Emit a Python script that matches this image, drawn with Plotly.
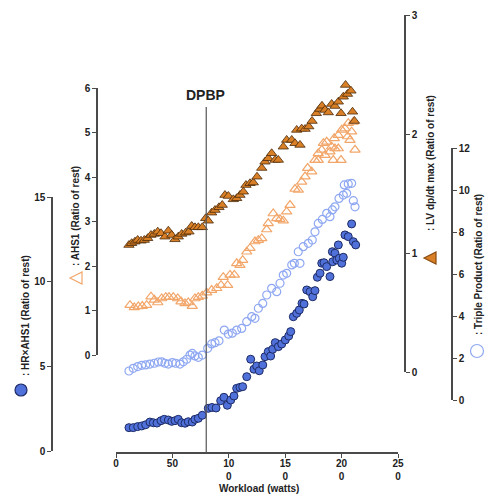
import plotly.graph_objects as go

# ---------------- data ----------------
hr_x = [11.5,15.3,19.2,22.8,26.3,30.1,33.1,36.3,39.9,42.8,46.4,49.4,52.3,55.2,58.2,61.2,64.1,67.6,70.0,73.0,76.5,81.8,85.1,88.7,92.8,95.7,98.7,101.7,104.6,107.0,109.9,112.3,115.9,119.4,122.3,124.7,127.0,130.1,132.1,135.0,137.1,138.9,141.2,143.9,146.9,150.1,153.1,154.9,157.2,160.2,162.5,164.9,166.7,169.1,172.0,174.4,176.4,178.5,180.9,182.4,184.4,186.8,189.7,191.8,192.1,194.1,195.7,197.1,198.0,200.1,201.5,203.0,205.9,208.9,210.4,212.5]
hr_y = [1.38,1.38,1.44,1.48,1.55,1.71,1.67,1.65,1.79,1.87,1.83,1.75,1.79,1.87,1.67,1.64,1.73,1.71,1.87,1.93,2.11,2.52,2.57,2.54,2.97,3.17,2.70,3.01,3.25,3.70,3.76,3.80,4.39,5.42,4.83,5.02,4.74,5.08,5.57,5.87,5.61,6.01,6.40,6.16,6.32,6.56,6.79,7.05,7.93,8.13,8.33,8.72,8.68,9.51,9.41,9.11,9.47,10.26,10.50,11.09,11.12,10.89,10.30,11.77,11.18,11.68,11.28,12.17,11.38,11.09,11.44,12.76,12.66,13.41,12.36,12.17]

tp_x = [11.5,15.3,19.2,22.8,26.3,30.1,34.0,37.5,40.5,43.4,46.4,49.9,52.9,56.7,59.7,62.7,65.6,67.6,70.0,73.0,76.5,81.3,84.8,87.8,91.3,96.0,99.6,103.1,107.0,111.4,115.9,120.3,123.2,126.2,130.1,133.6,138.0,142.5,145.4,148.3,151.3,155.8,158.1,161.6,163.1,166.0,170.5,174.0,176.4,179.3,182.9,186.8,189.7,191.8,194.1,197.7,201.5,202.4,204.5,205.9,208.9,210.4,211.9]
tp_y = [1.38,1.51,1.59,1.65,1.67,1.71,1.75,1.81,1.82,1.75,1.71,1.78,1.75,1.71,1.82,1.94,2.14,2.22,2.10,2.03,2.14,2.46,2.67,2.73,2.82,3.33,3.14,3.18,3.33,3.41,3.73,3.97,3.89,4.37,4.60,5.00,5.32,5.16,5.56,5.95,6.03,6.43,6.51,7.06,6.51,7.30,7.46,7.62,8.01,8.41,8.60,8.89,8.73,9.05,9.20,9.60,9.76,10.24,9.84,10.29,10.32,9.49,9.20]

ahs_x = [12.4,16.2,19.8,23.3,27.2,31.0,34.0,37.0,40.5,44.1,47.0,50.8,54.7,57.6,61.2,64.1,67.6,70.0,73.0,76.5,80.4,84.8,89.3,93.1,95.1,99.0,101.1,104.9,107.0,109.9,112.3,115.9,118.8,123.2,126.2,129.2,133.6,135.0,139.4,142.5,145.4,148.3,151.3,154.3,158.7,161.6,164.6,167.6,169.9,173.5,176.4,179.3,179.3,182.4,183.9,185.3,186.8,189.7,191.2,192.6,193.5,194.1,197.1,197.1,199.5,200.1,203.0,205.4,205.9,207.4,208.9,210.4,211.9]
ahs_y = [1.12,1.07,1.09,1.10,1.12,1.31,1.24,1.18,1.27,1.30,1.30,1.30,1.27,1.20,1.16,1.18,1.10,1.27,1.30,1.33,1.40,1.46,1.50,1.57,1.75,1.57,1.80,1.80,2.06,2.02,2.13,2.32,2.40,2.55,2.58,2.62,2.82,2.96,3.18,3.07,3.05,3.02,3.22,3.37,3.73,3.71,3.89,4.01,4.20,4.12,4.38,4.53,4.38,4.61,4.76,4.49,4.79,4.57,4.68,4.38,4.87,4.64,4.94,4.64,4.38,5.06,5.09,4.91,5.21,4.83,5.02,5.24,4.61]

lv_x = [11.5,13.9,16.8,19.2,22.2,25.1,28.1,31.0,34.0,37.0,39.9,43.4,46.4,49.4,52.3,55.2,58.2,61.8,64.7,67.1,70.0,73.0,76.5,79.5,81.8,84.8,87.8,91.3,94.2,96.6,99.6,104.0,107.0,109.9,112.9,115.2,118.8,121.7,125.0,129.2,132.1,135.0,138.0,141.0,143.9,148.3,151.3,155.8,158.7,160.2,163.1,164.6,167.6,170.9,173.8,177.6,180.6,182.6,185.3,188.2,191.2,194.1,197.1,199.5,201.5,203.5,205.2,208.3,209.7,211.4]
lv_y = [1.067,1.082,1.095,1.109,1.103,1.109,1.124,1.151,1.160,1.179,1.166,1.137,1.187,1.151,1.115,1.137,1.160,1.171,1.179,1.227,1.216,1.216,1.216,1.292,1.271,1.339,1.361,1.384,1.403,1.487,1.479,1.451,1.460,1.487,1.515,1.571,1.586,1.592,1.641,1.714,1.767,1.796,1.838,1.782,1.782,1.893,1.950,1.950,1.922,2.034,1.908,2.045,2.042,2.063,2.109,2.174,2.210,2.237,2.202,2.181,2.252,2.235,2.271,2.174,2.313,2.412,2.336,2.363,2.187,2.109]

x_tickvals = [0, 50, 100, 150, 200, 250]
x_ticktext = ["0", "50", "10<br>0", "15<br>0", "20<br>0", "25<br>0"]
dpbp_watts = 80

# ---------------- layout helpers ----------------
W, H = 488, 495
def px(x):
    return x / W
def py(y):
    return 1 - y / H

FONT = "Liberation Sans"
AX = "#4a4a4a"
TXT = "#222222"
C_HR = "#4F71D9"
C_TP = "#8FA8F2"
C_AHS = "#F2A66A"
C_LV = "#D98026"

fig = go.Figure()

fig.add_trace(go.Scatter(x=tp_x, y=tp_y, xaxis="x", yaxis="y4", mode="markers", cliponaxis=False,
                         marker=dict(symbol="circle-open", size=8, color=C_TP, line=dict(width=1.2)),
                         showlegend=False))
fig.add_trace(go.Scatter(x=ahs_x, y=ahs_y, xaxis="x", yaxis="y2", mode="markers", cliponaxis=False,
                         marker=dict(symbol="triangle-up-open", size=9, color=C_AHS, line=dict(width=1.2)),
                         showlegend=False))
fig.add_trace(go.Scatter(x=hr_x, y=hr_y, xaxis="x", yaxis="y", mode="markers", cliponaxis=False,
                         marker=dict(symbol="circle", size=8, color=C_HR, line=dict(width=1, color="#1E2B66")),
                         showlegend=False))
fig.add_trace(go.Scatter(x=lv_x, y=lv_y, xaxis="x", yaxis="y3", mode="markers", cliponaxis=False,
                         marker=dict(symbol="triangle-up", size=9, color=C_LV, line=dict(width=0.8, color="#4A2A0A")),
                         showlegend=False))

tickfont = dict(family=FONT, size=10, color=TXT, weight="bold")
common = dict(showline=True, linecolor=AX, linewidth=1.5, ticks="outside", ticklen=4, tickwidth=1.2,
              tickcolor=AX, showgrid=False, zeroline=False, tickfont=tickfont, fixedrange=True,
              automargin=False)

fig.update_layout(
    template="none",
    width=W, height=H,
    margin=dict(l=0, r=0, t=0, b=0, pad=0),
    paper_bgcolor="white", plot_bgcolor="rgba(0,0,0,0)",
    hovermode=False,
    xaxis=dict(domain=[px(116), px(398)], range=[0, 250], anchor="free", position=py(453),
               tickvals=x_tickvals, ticktext=x_ticktext, ticklabelstandoff=-3, **common),
    yaxis=dict(domain=[py(451), py(197)], range=[0, 15], anchor="free", position=px(52), side="left",
               tickvals=[0, 5, 10, 15], **common),
    yaxis2=dict(domain=[py(355), py(88)], range=[0, 6], anchor="free", position=px(97), side="left",
                tickvals=[0, 1, 2, 3, 4, 5, 6], **common),
    yaxis3=dict(domain=[py(372), py(15)], range=[0, 3], anchor="free", position=px(405), side="right",
                tickvals=[0, 1, 2, 3], **common),
    yaxis4=dict(domain=[py(400), py(148)], range=[0, 12], anchor="free", position=px(452), side="right",
                tickvals=[0, 2, 4, 6, 8, 10, 12], **common),
)

# DPBP marker line
fig.add_shape(type="line", xref="x", yref="paper", x0=dpbp_watts, x1=dpbp_watts,
              y0=py(453), y1=py(107), line=dict(color="#555555", width=1.2))

# legend-like symbols beside the rotated axis titles
def circle(cx, cy, r, fill, line):
    fig.add_shape(type="circle", xref="paper", yref="paper",
                  x0=px(cx - r), x1=px(cx + r), y0=py(cy + r), y1=py(cy - r),
                  fillcolor=fill, line=dict(color=line, width=1.2))

def left_tri(cx, cy, s, fill, line):
    p = "M {a},{b} L {c},{d} L {c},{e} Z".format(
        a=px(cx - s / 2), b=py(cy), c=px(cx + s / 2), d=py(cy - s / 2), e=py(cy + s / 2))
    fig.add_shape(type="path", xref="paper", yref="paper", path=p,
                  fillcolor=fill, line=dict(color=line, width=1.2))

circle(21, 390, 6, C_HR, "#1E2B66")
left_tri(76, 278, 12, "rgba(0,0,0,0)", C_AHS)
left_tri(430, 258, 12, C_LV, "#8A4A10")
circle(477, 351, 6.5, "rgba(0,0,0,0)", C_TP)

lab = dict(family=FONT, size=10, color=TXT, weight="bold")
def ann(text, x, y, angle=0, font=lab):
    fig.add_annotation(text=text, x=px(x), y=py(y), xref="paper", yref="paper", showarrow=False,
                       xanchor="center", yanchor="middle", textangle=angle, font=font)

ann("DPBP", 205, 95, font=dict(family=FONT, size=14, color=TXT, weight="bold"))
ann("Workload (watts)", 259, 488)
ann(": HR×AHS1 (Ratio of rest)", 25, 316, -90)
ann(": AHS1 (Ratio of rest)", 76, 216, -90)
ann(": LV dp/dt max (Ratio of rest)", 430, 163, -90)
ann(": Triple Product (Ratio of rest)", 478, 265, -90)

fig.write_html("out.html", config={"displayModeBar": False},
               post_script="document.body.style.margin='0px';document.body.style.padding='0px';")
